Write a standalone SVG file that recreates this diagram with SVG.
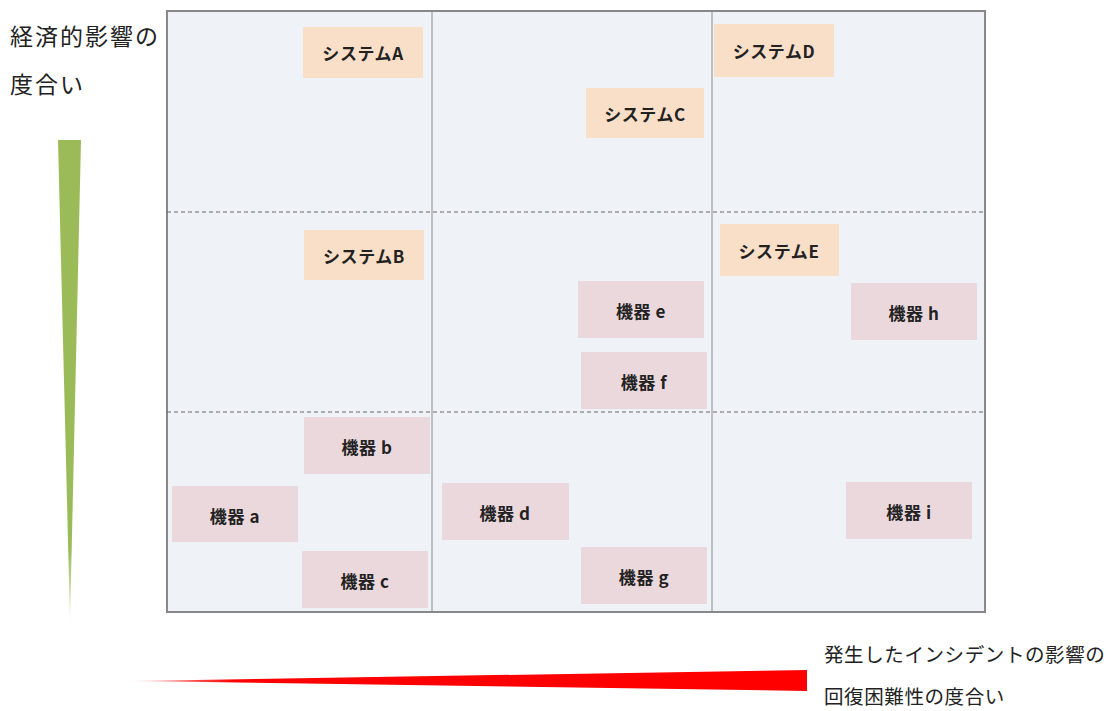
<svg xmlns="http://www.w3.org/2000/svg" width="1115" height="711" viewBox="0 0 1115 711">
<style>
.lbl{font-family:"Noto Sans CJK JP","Noto Sans",sans-serif;fill:#222}
.l1{font-size:23px;letter-spacing:2px}
.l2{font-size:19.5px;letter-spacing:0.6px}
.sys{fill:#FADFC8}
.dev{fill:#EBD8DC}
.nt{font-family:"Noto Sans CJK JP","Noto Sans",sans-serif;font-size:17px;font-weight:bold;fill:#222;text-anchor:middle;dominant-baseline:central;letter-spacing:0.6px}
.vl{stroke:#8a8a8a;stroke-width:1}
.dl{stroke:#666;stroke-width:1;stroke-dasharray:4 3}
</style>
<defs>
<linearGradient id="gg" x1="0" y1="0" x2="0" y2="1">
<stop offset="0" stop-color="#9BBB59"/>
<stop offset="0.85" stop-color="#9BBB59"/>
<stop offset="1" stop-color="#9BBB59" stop-opacity="0.2"/>
</linearGradient>
<linearGradient id="rg" x1="0" y1="0" x2="1" y2="0">
<stop offset="0" stop-color="#FF0000" stop-opacity="0.2"/>
<stop offset="0.15" stop-color="#FF0000"/>
<stop offset="1" stop-color="#FF0000"/>
</linearGradient>
</defs>
<rect width="1115" height="711" fill="#fff"/>
<g id="axis-y">
<text class="lbl l1" x="10" y="45">経済的影響の</text>
<text class="lbl l1" x="10" y="93">度合い</text>
<polygon points="58,140 81,140 70,622" fill="url(#gg)"/>
</g>
<g id="axis-x">
<polygon points="133,681 807,670 807,691" fill="url(#rg)"/>
<text class="lbl l2" x="824" y="662">発生したインシデントの影響の</text>
<text class="lbl l2" x="824" y="704">回復困難性の度合い</text>
</g>
<g id="grid">
<rect x="167" y="11" width="818" height="601" fill="#EFF3F8" stroke="#888" stroke-width="2"/>
<line class="vl" x1="432" y1="11" x2="432" y2="612"/>
<line class="vl" x1="712" y1="11" x2="712" y2="612"/>
<line class="dl" x1="167" y1="212" x2="985" y2="212"/>
<line class="dl" x1="167" y1="412" x2="985" y2="412"/>
</g>
<g id="connectors"></g>
<g id="sysA"><rect class="sys" x="303" y="27" width="120" height="51"/><text class="nt" x="363" y="52">システムA</text></g>
<g id="sysC"><rect class="sys" x="586" y="88" width="118" height="50"/><text class="nt" x="645" y="113">システムC</text></g>
<g id="sysD"><rect class="sys" x="714" y="24" width="120" height="53"/><text class="nt" x="774" y="50">システムD</text></g>
<g id="sysB"><rect class="sys" x="304" y="230" width="120" height="50"/><text class="nt" x="364" y="255">システムB</text></g>
<g id="sysE"><rect class="sys" x="720" y="224" width="119" height="52"/><text class="nt" x="779" y="250">システムE</text></g>
<g id="devE"><rect class="dev" x="578" y="281" width="126" height="57"/><text class="nt" x="641" y="310">機器 e</text></g>
<g id="devF"><rect class="dev" x="581" y="352" width="126" height="57"/><text class="nt" x="644" y="381">機器 f</text></g>
<g id="devH"><rect class="dev" x="851" y="283" width="126" height="57"/><text class="nt" x="914" y="312">機器 h</text></g>
<g id="devB"><rect class="dev" x="304" y="417" width="126" height="57"/><text class="nt" x="367" y="446">機器 b</text></g>
<g id="devA"><rect class="dev" x="172" y="486" width="126" height="56"/><text class="nt" x="235" y="515">機器 a</text></g>
<g id="devC"><rect class="dev" x="302" y="551" width="126" height="57"/><text class="nt" x="365" y="580">機器 c</text></g>
<g id="devD"><rect class="dev" x="442" y="483" width="127" height="57"/><text class="nt" x="505" y="512">機器 d</text></g>
<g id="devG"><rect class="dev" x="581" y="547" width="126" height="57"/><text class="nt" x="644" y="576">機器 g</text></g>
<g id="devI"><rect class="dev" x="846" y="482" width="126" height="57"/><text class="nt" x="909" y="511">機器 i</text></g>
</svg>
